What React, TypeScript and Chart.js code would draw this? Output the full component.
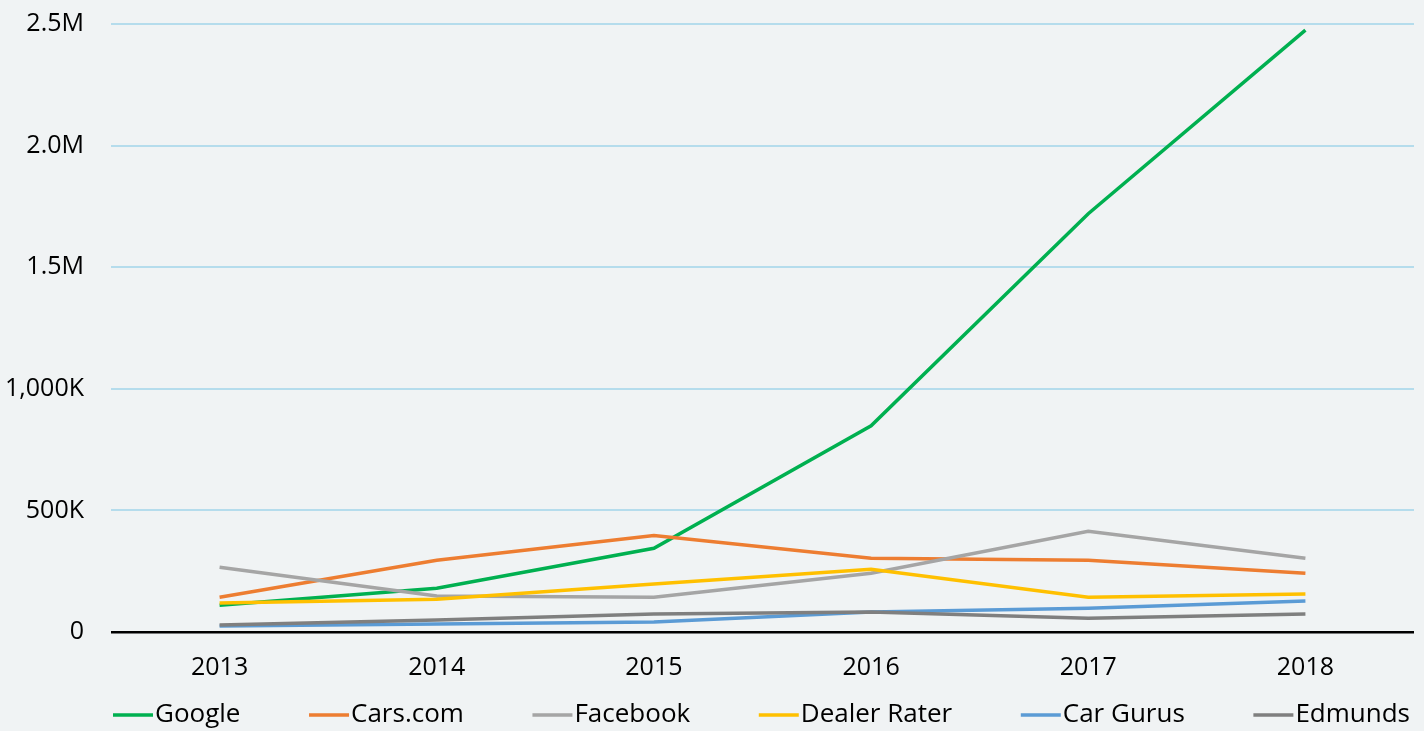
import React, { useEffect, useRef } from "react";
import { Chart, registerables } from "chart.js";

Chart.register(...registerables);

const years = ["2013", "2014", "2015", "2016", "2017", "2018"];
const seriesNames = ["Google", "Cars.com", "Facebook", "Dealer Rater", "Car Gurus", "Edmunds"];
const google = [110000, 180000, 344000, 848000, 1720000, 2475000];
const carsCom = [143000, 295000, 397000, 303000, 295000, 242000];
const facebook = [266000, 148000, 143000, 242000, 414000, 303000];
const dealerRater = [119000, 135000, 197000, 258000, 143000, 156000];
const carGurus = [25000, 33000, 41000, 82000, 98000, 127000];
const edmunds = [29000, 49000, 74000, 82000, 57000, 74000];
const yTickLabels: Record<number, string> = {
  0: "0",
  500000: "500K",
  1000000: "1,000K",
  1500000: "1.5M",
  2000000: "2.0M",
  2500000: "2.5M",
};

const BG = "#f0f3f4";
const FONT = "'Open Sans', sans-serif";
const COLORS = ["#00b050", "#ed7d31", "#a5a5a5", "#ffc000", "#5b9bd5", "#7f7f7f"];

const bottomLegend = {
  id: "bottomLegend",
  afterDraw(chart: any) {
    const ctx = chart.ctx as CanvasRenderingContext2D;
    ctx.save();
    ctx.font = `26px ${FONT}`;
    const lineW = 40;
    const items = chart.data.datasets.map((ds: any) => ({
      text: ds.label as string,
      color: ds.borderColor as string,
      w: lineW + 2 + ctx.measureText(ds.label).width,
    }));
    const left = chart.chartArea.left + 2;
    const right = chart.width - 14;
    const total = items.reduce((a: number, b: any) => a + b.w, 0);
    const gap = (right - left - total) / (items.length - 1);
    const y = chart.height - 16;
    let x = left;
    items.forEach((it: any) => {
      ctx.strokeStyle = it.color;
      ctx.lineWidth = 3.5;
      ctx.beginPath();
      ctx.moveTo(x, y);
      ctx.lineTo(x + lineW, y);
      ctx.stroke();
      ctx.fillStyle = "#000";
      ctx.textBaseline = "middle";
      ctx.textAlign = "left";
      ctx.fillText(it.text, x + lineW + 2, y);
      x += it.w + gap;
    });
    ctx.restore();
  },
};

export default function App() {
  const ref = useRef<HTMLCanvasElement>(null);
  useEffect(() => {
    document.body.style.margin = "0";
    document.body.style.background = BG;
    const values = [google, carsCom, facebook, dealerRater, carGurus, edmunds];
    const chart = new Chart(ref.current!, {
      type: "line",
      data: {
        labels: years,
        datasets: seriesNames.map((name, i) => ({
          label: name,
          data: values[i],
          borderColor: COLORS[i],
          backgroundColor: COLORS[i],
          borderWidth: 3.5,
          pointRadius: 0,
          tension: 0,
          order: seriesNames.length - i,
        })),
      },
      options: {
        animation: false,
        responsive: true,
        maintainAspectRatio: false,
        layout: { padding: { top: 24, right: 10, left: 0, bottom: 27 } },
        scales: {
          x: {
            offset: true,
            grid: { display: false, drawTicks: false },
            border: { display: false },
            ticks: { color: "#000", font: { family: FONT, size: 25 }, padding: 21 },
          },
          y: {
            min: 0,
            max: 2500000,
            border: { display: false },
            afterFit: (scale: any) => {
              scale.width = 111;
              scale.paddingTop = 0;
            },
            grid: {
              drawTicks: false,
              color: (ctx: any) => (ctx.tick && ctx.tick.value === 0 ? "#000" : "#b5dcec"),
              lineWidth: (ctx: any) => (ctx.tick && ctx.tick.value === 0 ? 2.5 : 2),
            },
            ticks: {
              stepSize: 500000,
              color: "#000",
              font: { family: FONT, size: 25 },
              padding: 27,
              callback: (v: any) => yTickLabels[Number(v)] ?? String(v),
            },
          },
        },
        plugins: {
          tooltip: { enabled: false },
          legend: { display: false },
        },
      },
      plugins: [bottomLegend],
    });
    return () => chart.destroy();
  }, []);
  return (
    <div style={{ width: 1424, height: 731, background: BG, position: "relative" }}>
      <canvas ref={ref} />
    </div>
  );
}
